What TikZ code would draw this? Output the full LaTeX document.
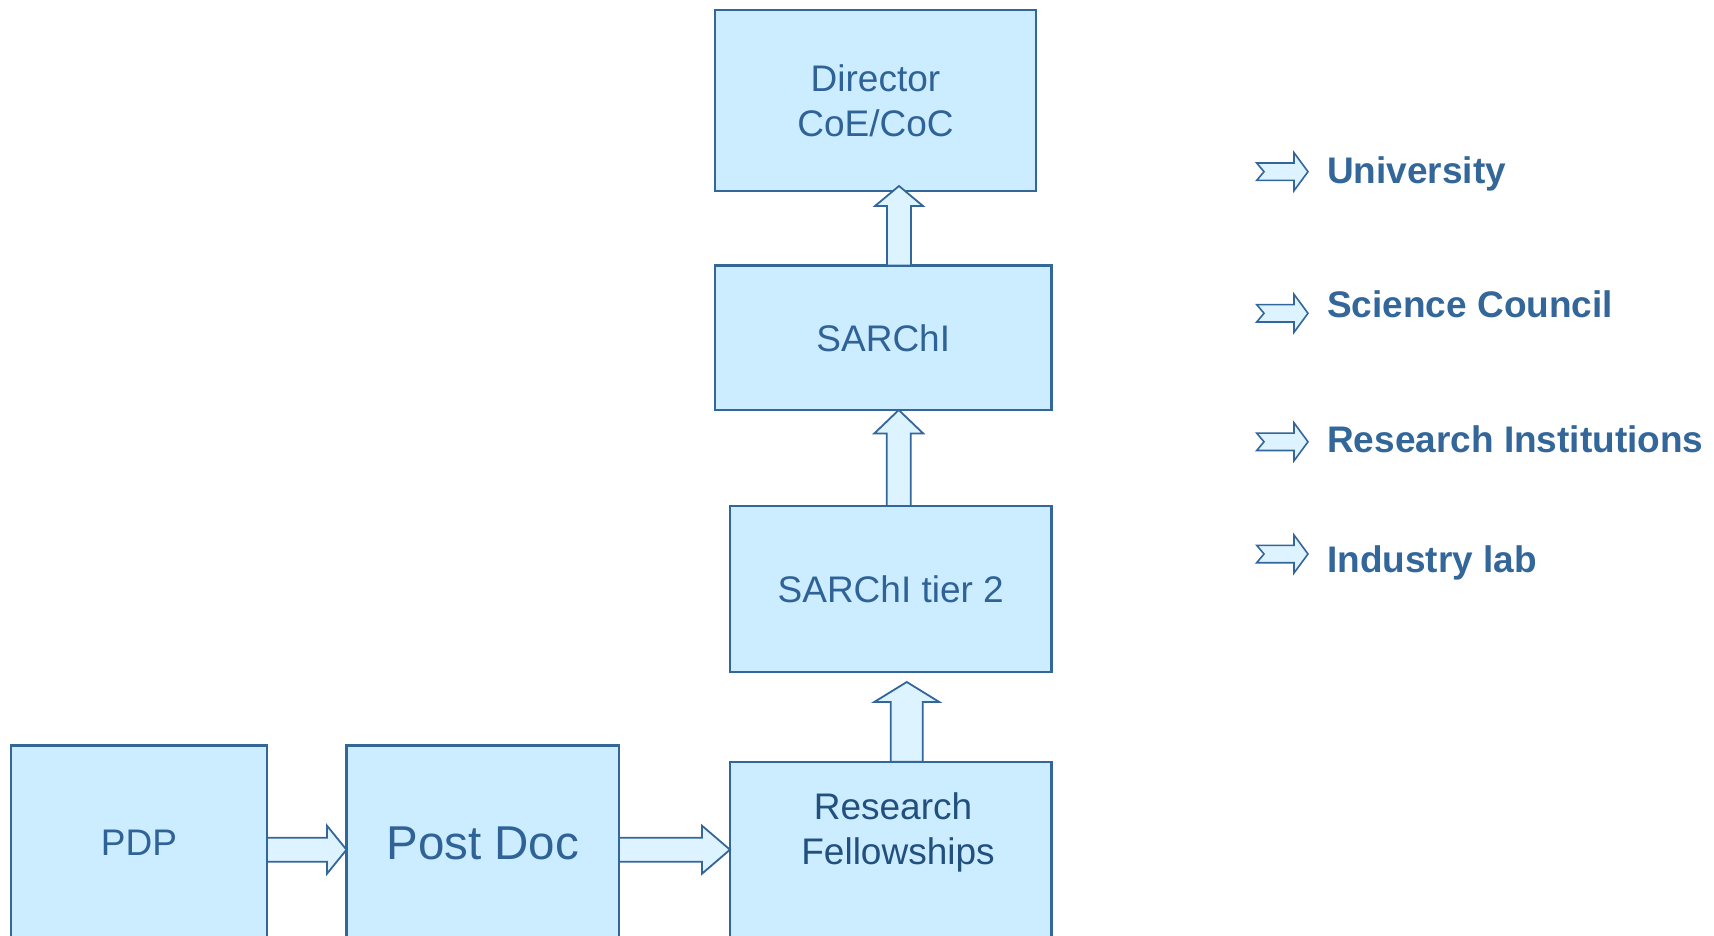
\documentclass[tikz,border=0pt]{standalone}
\usepackage{fontspec}
\setmainfont{Liberation Sans}
\usetikzlibrary{calc}
\definecolor{boxfill}{HTML}{CCECFF}
\definecolor{boxline}{HTML}{336699}
\definecolor{arrfill}{HTML}{DDF3FF}
\definecolor{txt}{HTML}{2F6296}
\definecolor{txtdark}{HTML}{21507F}
\tikzset{
 box/.style={draw=boxline, fill=boxfill, line width=2.4pt, inner sep=0pt, outer sep=0pt, text=txt, font=\fontsize{37}{45}\selectfont, align=center},
 boxtext/.style={inner sep=0pt, outer sep=0pt, text=txtdark, font=\fontsize{37}{45}\selectfont, align=center},
 barrow/.style={draw=boxline, fill=arrfill, line width=1.8pt, line join=miter},
 legtext/.style={anchor=base west, text=boxline, font=\fontsize{37}{44}\selectfont\bfseries, inner sep=0pt},
}
% upward block arrow: #1 base point, #2 tip point, #3 shaft half width, #4 head half width, #5 head length
\newcommand\UpBlock[5]{%
 \draw[barrow] let \p1=(#1), \p2=(#2) in
 (\x1-#3pt,\y1) -- (\x1-#3pt,\y2-#5pt) -- (\x1-#4pt,\y2-#5pt) -- (\x1,\y2) -- (\x1+#4pt,\y2-#5pt) -- (\x1+#3pt,\y2-#5pt) -- (\x1+#3pt,\y1) -- cycle;}
% rightward block arrow
\newcommand\RightBlock[5]{%
 \draw[barrow] let \p1=(#1), \p2=(#2) in
 (\x1,\y1+#3pt) -- (\x2-#5pt,\y1+#3pt) -- (\x2-#5pt,\y1+#4pt) -- (\x2,\y1) -- (\x2-#5pt,\y1-#4pt) -- (\x2-#5pt,\y1-#3pt) -- (\x1,\y1-#3pt) -- cycle;}
% notched legend arrow: #1 left x, #2 centre y
\newcommand\LegArrow[2]{%
 \draw[barrow, line width=1.6pt] (#1,#2-8.7) -- (#1+37.3,#2-8.7) -- (#1+37.3,#2-19) -- (#1+51.3,#2) -- (#1+37.3,#2+19) -- (#1+37.3,#2+8.7) -- (#1,#2+8.7) -- (#1+7.3,#2) -- cycle;}
\begin{document}
\begin{tikzpicture}[x=1pt,y=-1pt]
\useasboundingbox (0,0) rectangle (1714,936);
\clip (0,0) rectangle (1714,936);
% boxes
\node[box, minimum width=321pt, minimum height=181pt] (director) at (875.5,100.5) {Director\\CoE/CoC};
\node[box, minimum width=336.5pt, minimum height=144.4pt] (sarchi) at (883.25,337.8) {SARChI};
\node[box, minimum width=321.5pt, minimum height=166pt] (tier2) at (890.75,589) {SARChI tier 2};
\node[box, minimum width=321.5pt, minimum height=200pt] (rf) at (890.75,861.7) {};
\node[boxtext] (rftext) at (893,832) {Research\\\hspace*{10pt}Fellowships};
\node[box, minimum width=256pt, minimum height=195pt] (pdp) at (139,843) {PDP};
\node[box, minimum width=272.5pt, minimum height=195pt, font=\fontsize{47.5}{56}\selectfont] (postdoc) at (482.75,843) {Post Doc};
% block arrows
\UpBlock{$(sarchi.north)+(15.75,0)$}{$(director.south)+(0,-5)$}{12}{24}{20}
\UpBlock{$(tier2.north)+(8,0)$}{sarchi.south}{12}{24.5}{23.5}
\UpBlock{$(rf.north)+(16,0)$}{$(tier2.south)+(0,10)$}{16}{32.5}{20}
\RightBlock{$(pdp.east)+(0,6.7)$}{postdoc.west}{12}{24}{19.5}
\RightBlock{$(postdoc.east)+(0,6.7)$}{rf.west}{12}{24}{28}
% legend
\node[legtext] (univ) at (1327,184) {University};
\node[legtext] (sci) at (1327,317) {Science Council};
\node[legtext] (resi) at (1327,452) {Research Institutions};
\node[legtext] (ind) at (1327,572) {Industry lab};
\LegArrow{1256.7}{171.7}
\LegArrow{1256.7}{313.3}
\LegArrow{1256.7}{441.8}
\LegArrow{1256.7}{554}
\end{tikzpicture}
\end{document}
